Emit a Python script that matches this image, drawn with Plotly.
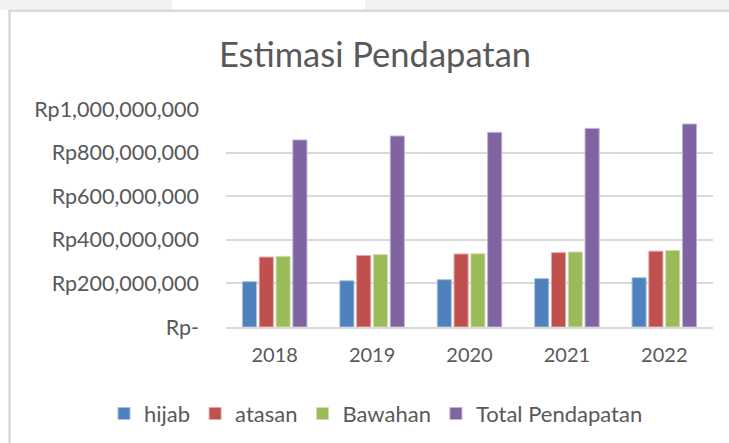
import plotly.graph_objects as go

years = ["2018", "2019", "2020", "2021", "2022"]
hijab = [208e6, 212e6, 217e6, 222e6, 226e6]
atasan = [321e6, 328e6, 335e6, 341e6, 348e6]
bawahan = [324e6, 332e6, 336e6, 344e6, 351e6]
total = [858e6, 876e6, 893e6, 911e6, 931e6]

series_names = ["hijab", "atasan", "Bawahan", "Total Pendapatan"]
series_values = [hijab, atasan, bawahan, total]
colors = ["#4f81bd", "#c0504d", "#9bbb59", "#8064a2"]
outline = ["#a7c0de", "#e0a8a6", "#cddeac", "#bfb1d0"]

y_tickvals = [0, 200e6, 400e6, 600e6, 800e6, 1000e6]
y_ticktext = ["Rp-", "Rp200,000,000", "Rp400,000,000", "Rp600,000,000",
              "Rp800,000,000", "Rp1,000,000,000"]

W, H = 729, 443
L, R, T, B = 226, 713, 109.3, 327.3
FONT = "Lato"
TXT = "#595959"

fig = go.Figure()
for name, vals, c, oc in zip(series_names, series_values, colors, outline):
    fig.add_trace(go.Bar(x=years, y=vals, name=name,
                         marker=dict(color=c, line=dict(color=oc, width=1))))

def px2paper(px, py):
    return (px - L) / (R - L), (B - py) / (B - T)

shapes = []
x0, y0 = px2paper(0, 0)
x1, y1 = px2paper(172, 10)
shapes.append(dict(type="rect", xref="paper", yref="paper", x0=x0, y0=y0, x1=x1, y1=y1,
                   fillcolor="#f2f2f2", line=dict(width=0), layer="below"))
x0, y0 = px2paper(365, 0)
x1, y1 = px2paper(729, 10)
shapes.append(dict(type="rect", xref="paper", yref="paper", x0=x0, y0=y0, x1=x1, y1=y1,
                   fillcolor="#f2f2f2", line=dict(width=0), layer="below"))
x0, y0 = px2paper(9.5, 11)
x1, y1 = px2paper(740, 460)
shapes.append(dict(type="rect", xref="paper", yref="paper", x0=x0, y0=y1, x1=x1, y1=y0,
                   fillcolor="rgba(0,0,0,0)", line=dict(color="#d9d9d9", width=2.5), layer="below"))

lx, ly = px2paper(104, 414)

fig.update_layout(
    width=W, height=H,
    margin=dict(l=L, r=W - R, t=T, b=H - B, autoexpand=False),
    paper_bgcolor="white", plot_bgcolor="white",
    barmode="group", bargap=0.31, bargroupgap=0.16,
    font=dict(family=FONT, color=TXT, size=20),
    title=dict(text="Estimasi Pendapatan", xref="container", yref="container",
               x=375 / W, y=1 - 55 / H, xanchor="center", yanchor="middle",
               font=dict(family=FONT, size=34.5, color=TXT)),
    xaxis=dict(type="category", showgrid=False, showline=True, linecolor="#d9d9d9",
               linewidth=2, ticks="", ticklabelstandoff=9,
               tickfont=dict(family=FONT, size=20, color=TXT)),
    yaxis=dict(range=[0, 1e9], tickvals=y_tickvals, ticktext=y_ticktext,
               showgrid=True, gridcolor="#d9d9d9", gridwidth=1.6, zeroline=False,
               showline=False, ticks="", ticklabelstandoff=26,
               tickfont=dict(family=FONT, size=21.5, color=TXT)),
    legend=dict(orientation="h", xref="paper", yref="paper",
                x=lx, y=ly, xanchor="left", yanchor="middle",
                font=dict(family=FONT, size=22, color=TXT), bgcolor="rgba(0,0,0,0)"),
    shapes=shapes,
)

fig.write_html("out.html", config={"displayModeBar": False},
               post_script="document.body.style.margin='0';document.body.style.padding='0';")
